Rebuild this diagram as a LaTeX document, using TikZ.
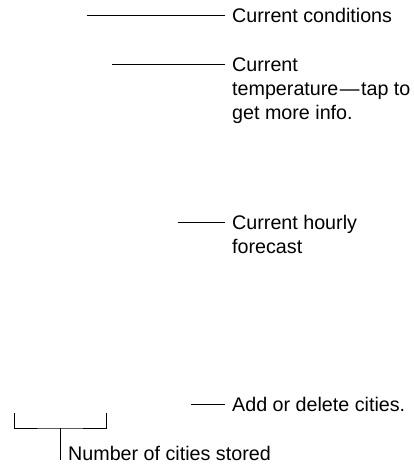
\documentclass[tikz,border=0pt]{standalone}
\usepackage{fontspec}
\setmainfont{Liberation Sans}
\usetikzlibrary{positioning,calc}
\tikzset{
  lbl style/.style={anchor=base west, align=left, inner xsep=7pt, inner ysep=0pt,
    font=\fontsize{19.7}{24}\selectfont},
  lead style/.style={line width=1pt, black}
}
\begin{document}
\begin{tikzpicture}[x=1pt, y=-1pt]
\useasboundingbox (0,0) rectangle (413,465);
% callout labels (base = last line)
\node[lbl style] (cond) at (225,23) {Current conditions};
\node[lbl style] (temp) at (225,120) {Current\\temperature\kern1.5pt---\kern1.5pt tap to\\get more info.};
\node[lbl style] (hourly) at (225,253) {Current hourly\\forecast};
\node[lbl style] (cities) at (225,411) {Add or delete cities.};
\node[lbl style, inner xsep=8pt] (stored) at (60,460) {Number of cities stored};
% free ends of the leader lines
\coordinate (c1) at (87,16);
\coordinate (c2) at (112,65);
\coordinate (c3) at (178,222);
\coordinate (c4) at (191,404);
\draw[lead style] (c1) -- (c1 -| cond.west);
\draw[lead style] (c2) -- (c2 -| temp.west);
\draw[lead style] (c3) -- (c3 -| hourly.west);
\draw[lead style] (c4) -- (c4 -| cities.west);
% bracket over the city dots
\coordinate (bl) at (14,413);
\coordinate (br) at (106,413);
\coordinate (bm) at (60,428);
\draw[lead style] (bl) |- (bm) -| (br);
\draw[lead style] (bm) -- (stored.base west);
\end{tikzpicture}
\end{document}
